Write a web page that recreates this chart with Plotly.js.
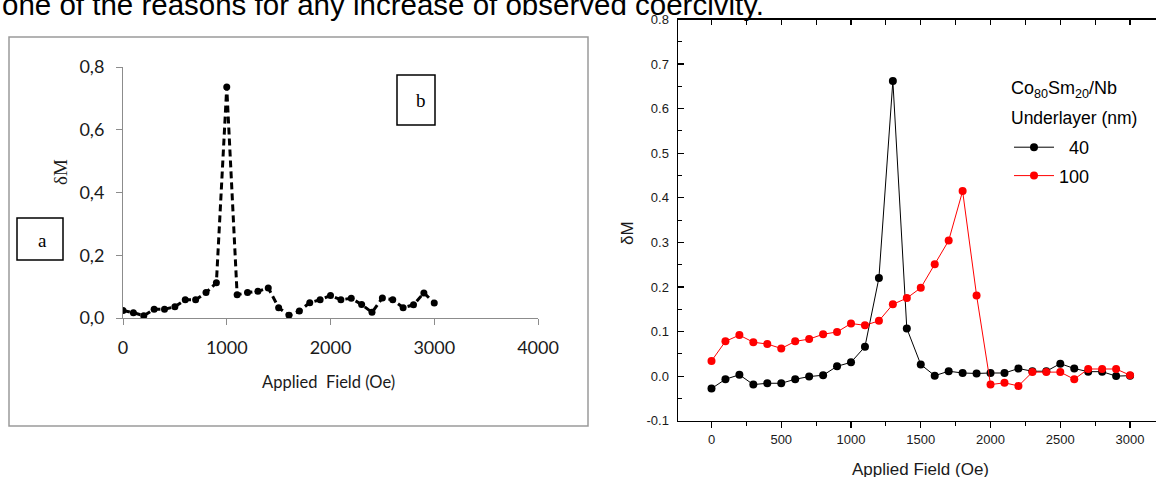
<!DOCTYPE html>
<html>
<head>
<meta charset="utf-8">
<script src="https://cdn.plot.ly/plotly-3.0.1.min.js"></script>
<style>
html,body{margin:0;padding:0;background:#ffffff;}
#chart{width:1156px;height:477px;}
</style>
</head>
<body>
<div id="chart"></div>
<script>
// ---------- Data ----------
// Panel (a): Excel-style chart
const fieldA = [0,100,200,300,400,500,600,700,800,900,1000,1100,1200,1300,1400,1500,1600,1700,1800,1900,2000,2100,2200,2300,2400,2500,2600,2700,2800,2900,3000];
const deltaMA = [0.024,0.017,0.007,0.028,0.028,0.036,0.058,0.058,0.081,0.112,0.736,0.074,0.081,0.085,0.096,0.033,0.009,0.022,0.049,0.058,0.072,0.058,0.063,0.043,0.018,0.064,0.058,0.033,0.042,0.080,0.048];
const xTicksA = [0,1000,2000,3000,4000];
const yTicksA = [0,0.2,0.4,0.6,0.8];
const yTickTextA = ['0,0','0,2','0,4','0,6','0,8'];

// Panel (b): Origin-style chart
const fieldB = [0,100,200,300,400,500,600,700,800,900,1000,1100,1200,1300,1400,1500,1600,1700,1800,1900,2000,2100,2200,2300,2400,2500,2600,2700,2800,2900,3000];
const deltaM40 = [-0.028,-0.007,0.003,-0.019,-0.016,-0.016,-0.007,-0.001,0.002,0.022,0.031,0.066,0.220,0.662,0.107,0.026,0.001,0.011,0.007,0.006,0.007,0.007,0.017,0.011,0.011,0.028,0.017,0.010,0.010,0.000,0.001];
const deltaM100 = [0.034,0.078,0.092,0.076,0.072,0.062,0.078,0.083,0.094,0.099,0.118,0.114,0.124,0.161,0.175,0.198,0.251,0.304,0.415,0.181,-0.019,-0.015,-0.022,0.009,0.009,0.009,-0.007,0.016,0.016,0.016,0.002];
const seriesNamesB = ['\u00a0\u00a040','100'];
const seriesColorsB = ['#000000','#ff0000'];
const xTicksB = [0,500,1000,1500,2000,2500,3000];
const yTicksB = [-0.1,0.0,0.1,0.2,0.3,0.4,0.5,0.6,0.7,0.8];
const yTickTextB = ['-0.1','0.0','0.1','0.2','0.3','0.4','0.5','0.6','0.7','0.8'];

// ---------- Layout helpers ----------
const W = 1156, H = 477;
const px = v => v / W;
const py = v => 1 - v / H;

const sansB = 'Liberation Sans, Arial, sans-serif';
const sansA = 'Lato, Open Sans, sans-serif';
const serif = 'Liberation Serif, Times New Roman, serif';

const traces = [
  {
    x: fieldA, y: deltaMA, xaxis: 'x', yaxis: 'y', type: 'scatter', mode: 'lines+markers',
    line: {color: '#000000', width: 3, dash: '7px,4px'},
    marker: {color: '#000000', size: 7, symbol: 'circle'},
    showlegend: false, hoverinfo: 'x+y'
  },
  {
    x: fieldB, y: deltaM40, xaxis: 'x2', yaxis: 'y2', type: 'scatter', mode: 'lines+markers',
    name: seriesNamesB[0], legendgroup: 'g40',
    line: {color: seriesColorsB[0], width: 1},
    marker: {color: seriesColorsB[0], size: 8, symbol: 'circle'}
  },
  {
    x: fieldB, y: deltaM100, xaxis: 'x2', yaxis: 'y2', type: 'scatter', mode: 'lines+markers',
    name: seriesNamesB[1], legendgroup: 'g100',
    line: {color: seriesColorsB[1], width: 1},
    marker: {color: seriesColorsB[1], size: 8, symbol: 'circle'}
  },
  {
    x: [], y: [], xaxis: 'x3', yaxis: 'y2', type: 'scatter', mode: 'markers',
    showlegend: false, hoverinfo: 'skip'
  }
];

const layout = {
  width: W, height: H,
  margin: {l: 0, r: 0, t: 0, b: 0, pad: 0},
  paper_bgcolor: '#ffffff',
  plot_bgcolor: 'rgba(0,0,0,0)',
  showlegend: true,
  font: {family: sansB, color: '#000000'},
  xaxis: {
    domain: [px(123), px(538)], range: [0, 4000], anchor: 'y',
    tickmode: 'array', tickvals: xTicksA,
    showline: true, linecolor: '#8c8c8c', linewidth: 1,
    ticks: 'outside', ticklen: 6, tickcolor: '#8c8c8c', tickwidth: 1,
    ticklabelstandoff: 7,
    showgrid: false, zeroline: false,
    tickfont: {family: sansA, size: 18, color: '#1a1a1a'}
  },
  yaxis: {
    domain: [py(318), py(67)], range: [0, 0.8], anchor: 'x',
    tickmode: 'array', tickvals: yTicksA, ticktext: yTickTextA,
    showline: true, linecolor: '#8c8c8c', linewidth: 1,
    ticks: 'outside', ticklen: 6, tickcolor: '#8c8c8c', tickwidth: 1,
    ticklabelstandoff: 8,
    showgrid: false, zeroline: false,
    tickfont: {family: sansA, size: 18, color: '#1a1a1a'}
  },
  xaxis2: {
    domain: [px(678), 1], range: [-240, 3186], anchor: 'y2',
    tickmode: 'array', tickvals: xTicksB,
    showline: true, linecolor: '#000000', linewidth: 1.5,
    ticks: 'outside', ticklen: 6, tickcolor: '#000000', tickwidth: 1.2,
    minor: {dtick: 250, tick0: 0, ticks: 'outside', ticklen: 4, tickcolor: '#000000', tickwidth: 1},
    showgrid: false, zeroline: false,
    tickfont: {family: sansB, size: 13, color: '#1a1a1a'}
  },
  xaxis3: {
    overlaying: 'x2', side: 'top', anchor: 'y2', range: [-240, 3186],
    tickmode: 'array', tickvals: xTicksB, showticklabels: false,
    showline: true, linecolor: '#000000', linewidth: 1.5,
    ticks: 'inside', ticklen: 5, tickcolor: '#000000', tickwidth: 1.2,
    minor: {dtick: 250, tick0: 0, ticks: 'inside', ticklen: 5, tickcolor: '#000000', tickwidth: 1},
    showgrid: false, zeroline: false
  },
  yaxis2: {
    domain: [py(420.7), py(19.5)], range: [-0.1, 0.8], anchor: 'x2',
    tickmode: 'array', tickvals: yTicksB, ticktext: yTickTextB,
    showline: true, linecolor: '#000000', linewidth: 1.5,
    ticks: 'inside', ticklen: 6, tickcolor: '#000000', tickwidth: 1.2,
    minor: {dtick: 0.05, tick0: 0, ticks: 'inside', ticklen: 3.5, tickcolor: '#000000', tickwidth: 1},
    ticklabelstandoff: 5,
    showgrid: false, zeroline: false,
    tickfont: {family: sansB, size: 13, color: '#1a1a1a'}
  },
  legend: {
    x: px(1009), y: py(129), xanchor: 'left', yanchor: 'top',
    xref: 'paper', yref: 'paper',
    bgcolor: 'rgba(0,0,0,0)', borderwidth: 0,
    font: {family: sansB, size: 18, color: '#000000'},
    itemwidth: 40, tracegroupgap: 2, traceorder: 'grouped'
  },
  shapes: [
    {type: 'rect', xref: 'paper', yref: 'paper', x0: px(9), x1: px(588), y0: py(426), y1: py(37),
     line: {color: '#9a9a9a', width: 1.5}, fillcolor: 'rgba(0,0,0,0)', layer: 'below'},
    {type: 'rect', xref: 'paper', yref: 'paper', x0: px(17), x1: px(63), y0: py(260), y1: py(218),
     line: {color: '#000000', width: 1.5}, fillcolor: 'rgba(0,0,0,0)'},
    {type: 'rect', xref: 'paper', yref: 'paper', x0: px(397), x1: px(435), y0: py(125), y1: py(75),
     line: {color: '#000000', width: 1.5}, fillcolor: 'rgba(0,0,0,0)'}
  ],
  annotations: [
    {text: 'one of the reasons for any increase of observed coercivity.', xref: 'paper', yref: 'paper',
     x: 0, y: py(4), xanchor: 'left', yanchor: 'middle', showarrow: false,
     font: {family: sansB, size: 29.5, color: '#000000'}},
    {text: 'Applied\u00a0\u00a0Field (Oe)', xref: 'paper', yref: 'paper', x: px(329), y: py(382),
     xanchor: 'center', yanchor: 'middle', showarrow: false,
     font: {family: sansA, size: 16.5, color: '#1a1a1a'}},
    {text: 'δM', xref: 'paper', yref: 'paper', x: px(60), y: py(172), textangle: -90,
     xanchor: 'center', yanchor: 'middle', showarrow: false,
     font: {family: serif, size: 19, color: '#1a1a1a'}},
    {text: 'a', xref: 'paper', yref: 'paper', x: px(42), y: py(240),
     xanchor: 'center', yanchor: 'middle', showarrow: false,
     font: {family: serif, size: 19, color: '#000000'}},
    {text: 'b', xref: 'paper', yref: 'paper', x: px(421), y: py(100),
     xanchor: 'center', yanchor: 'middle', showarrow: false,
     font: {family: serif, size: 19, color: '#000000'}},
    {text: 'Applied Field (Oe)', xref: 'paper', yref: 'paper', x: px(920), y: py(469),
     xanchor: 'center', yanchor: 'middle', showarrow: false,
     font: {family: sansB, size: 17, color: '#1a1a1a'}},
    {text: 'δM', xref: 'paper', yref: 'paper', x: px(628), y: py(233), textangle: -90,
     xanchor: 'center', yanchor: 'middle', showarrow: false,
     font: {family: sansB, size: 17, color: '#1a1a1a'}},
    {text: 'Co<sub>80</sub>Sm<sub>20</sub>/Nb', xref: 'paper', yref: 'paper', x: px(1009), y: py(90),
     xanchor: 'left', yanchor: 'middle', showarrow: false,
     font: {family: sansB, size: 18, color: '#000000'}},
    {text: 'Underlayer (nm)', xref: 'paper', yref: 'paper', x: px(1009), y: py(118),
     xanchor: 'left', yanchor: 'middle', showarrow: false,
     font: {family: sansB, size: 17.5, color: '#000000'}}
  ]
};

Plotly.newPlot('chart', traces, layout, {displayModeBar: false, staticPlot: true});
</script>
</body>
</html>
